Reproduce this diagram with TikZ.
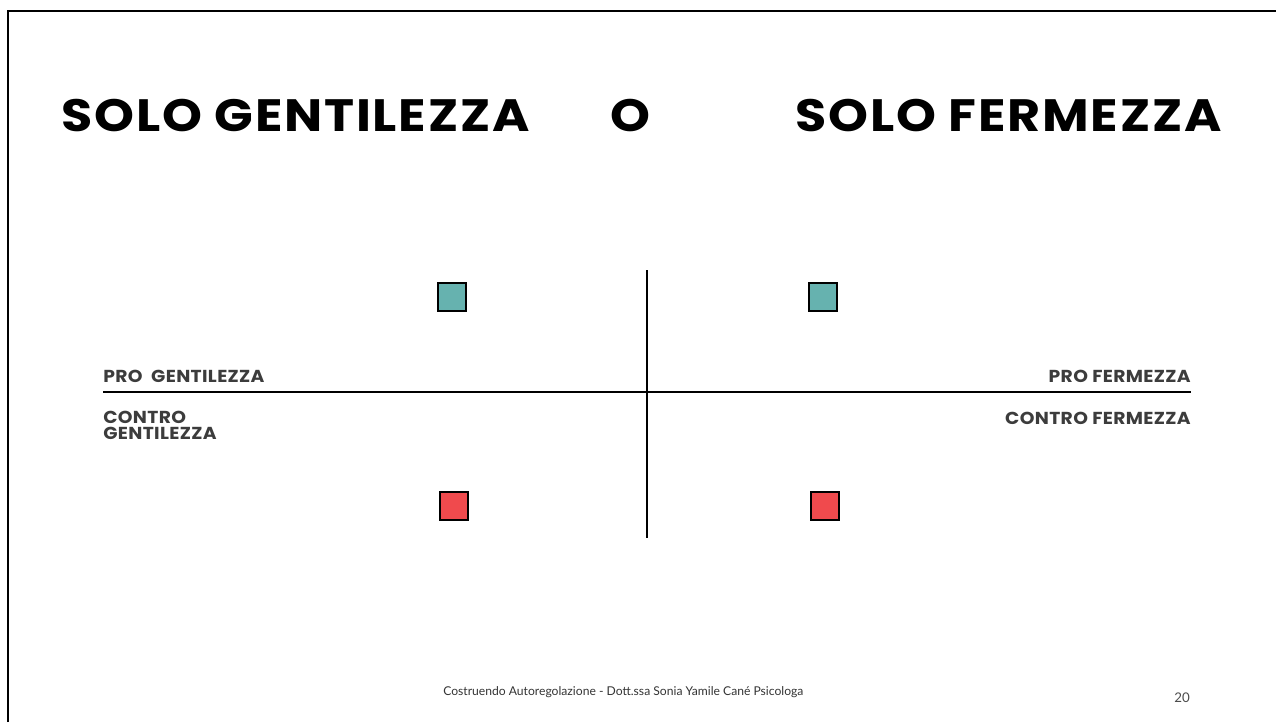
\documentclass[tikz,border=0pt]{standalone}
\usepackage{fontspec}
\usepackage{xcolor}
\usepackage{tikz}
\usetikzlibrary{positioning}
\newfontfamily\headfont{Poppins}
\newfontfamily\footfont{Lato}
\definecolor{proteal}{HTML}{66B2AF}
\definecolor{conred}{HTML}{F04A4D}
\definecolor{labgray}{HTML}{3C3C3C}

\begin{document}
\begin{tikzpicture}[
    x=0.75pt,y=-0.75pt,
    title/.style={inner sep=0,anchor=base west,
      font=\headfont\bfseries\fontsize{34}{40}\selectfont\addfontfeature{FakeStretch=1.12,LetterSpace=4}},
    lab/.style={inner sep=0,text=labgray,
      font=\headfont\bfseries\fontsize{13}{12}\selectfont\addfontfeature{FakeStretch=1.08,LetterSpace=2}},
    box/.style={draw,line width=1.5pt,minimum size=21pt,inner sep=0},
    axis/.style={line width=1.5pt}
]
\useasboundingbox (0,0) rectangle (1276,722);
\draw[line width=2pt] (8,722) -- (8,11) -- (1276,11);

\node[title] (tgen) at (61,131)  {SOLO GENTILEZZA};
\node[title] (tor)  at (610,131) {O};
\node[title] (tfer) at (795,131) {SOLO FERMEZZA};

\coordinate (vtop) at (647,270);
\coordinate (vbot) at (647,538);
\coordinate (hleft) at (103,392);
\coordinate (hright) at (1191,392);
\draw[axis] (vtop) -- (vbot);
\draw[axis] (hleft) -- (hright);

\node[lab,anchor=base west] (prog) at (103,382)  {PRO\ \ GENTILEZZA};
\node[lab,anchor=base east] (prof) at (1191,382) {PRO FERMEZZA};
\node[lab,anchor=north west,align=left] (cong) at (103,411) {CONTRO\\GENTILEZZA};
\node[lab,anchor=north east] (conf) at (1191,412) {CONTRO FERMEZZA};

\node[box,fill=proteal] (sqpg) at (452,297) {};
\node[box,fill=proteal] (sqpf) at (823,297) {};
\node[box,fill=conred]  (sqcg) at (454,506) {};
\node[box,fill=conred]  (sqcf) at (825,506) {};

\node[inner sep=0,anchor=base west,font=\footfont\fontsize{9.1}{12}\selectfont,text=black!80]
  (foot) at (443,695) {Costruendo Autoregolazione - Dott.ssa Sonia Yamile Cané Psicologa};
\node[inner sep=0,anchor=base east,font=\footfont\fontsize{10}{12}\selectfont,text=black!70]
  (pnum) at (1190,702) {20};
\end{tikzpicture}
\end{document}
